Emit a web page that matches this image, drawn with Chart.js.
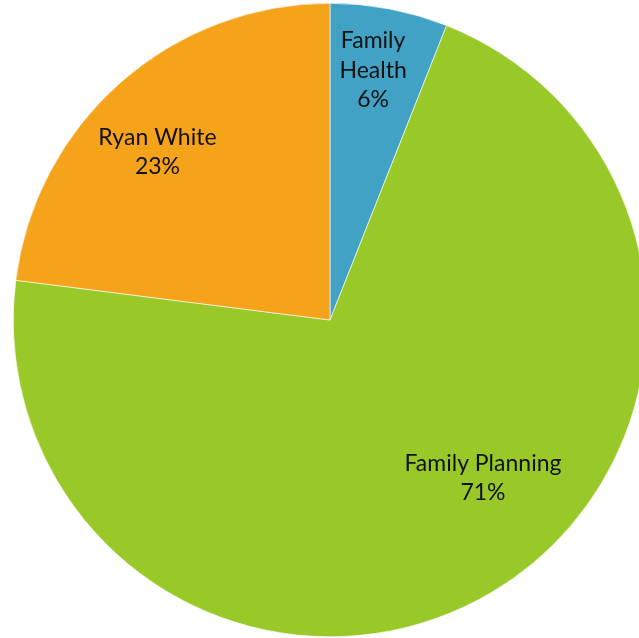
<!DOCTYPE html>
<html>
<head>
<meta charset="utf-8">
<script src="https://cdn.jsdelivr.net/npm/chart.js@4/dist/chart.umd.min.js"></script>
<style>
  html, body { margin: 0; padding: 0; background: #fff; overflow: hidden; }
  .wrap { position: absolute; left: 0; top: 0; width: 660px; height: 640px; }
</style>
</head>
<body>
<div class="wrap"><canvas id="pie"></canvas></div>
<script>
const programs = ['Family Health', 'Family Planning', 'Ryan White'];
const labelLines = [['Family', 'Health'], ['Family Planning'], ['Ryan White']];
const shares = [6, 71, 23];
const colors = ['#41a2c5', '#98c928', '#f5a31b'];

// where each label sits: fraction of radius, and angle nudge (deg) from the slice middle
const labelSpots = [
  { r: 0.80, turn: -1.0 },
  { r: 0.694, turn: -13.5 },
  { r: 0.76, turn: -4.4 }
];

const sliceLabels = {
  id: 'sliceLabels',
  afterDatasetsDraw(chart) {
    const { ctx } = chart;
    const meta = chart.getDatasetMeta(0);
    ctx.save();
    ctx.font = '23px Lato, "Open Sans", sans-serif';
    ctx.fillStyle = '#111';
    ctx.textAlign = 'center';
    ctx.textBaseline = 'middle';
    const lh = 29.5;
    meta.data.forEach((arc, i) => {
      const { x, y, startAngle, endAngle, outerRadius } = arc.getProps(['x', 'y', 'startAngle', 'endAngle', 'outerRadius'], true);
      const a = (startAngle + endAngle) / 2 + labelSpots[i].turn * Math.PI / 180;
      const r = outerRadius * labelSpots[i].r;
      const cx = x + Math.cos(a) * r;
      const cy = y + Math.sin(a) * r;
      const lines = [...labelLines[i], shares[i] + '%'];
      const top = cy - (lines.length - 1) * lh / 2;
      lines.forEach((t, k) => ctx.fillText(t, cx, top + k * lh));
    });
    ctx.restore();
  }
};

new Chart(document.getElementById('pie'), {
  type: 'pie',
  data: {
    labels: programs,
    datasets: [{ data: shares, backgroundColor: colors, borderColor: '#fff', borderWidth: 0.6 }]
  },
  options: {
    responsive: true,
    maintainAspectRatio: false,
    animation: false,
    layout: { padding: { top: 3, bottom: 3, left: 0, right: 0 } },
    plugins: { legend: { display: false }, tooltip: { enabled: false } }
  },
  plugins: [sliceLabels]
});
</script>
</body>
</html>
